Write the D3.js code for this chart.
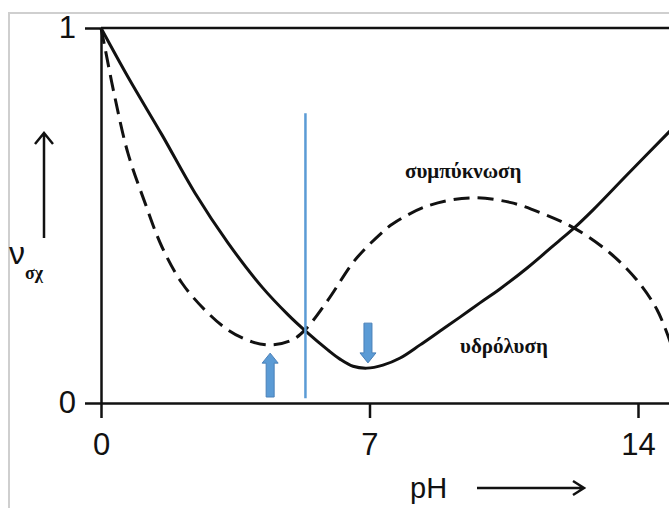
<!DOCTYPE html>
<html>
<head>
<meta charset="utf-8">
<script src="https://cdn.jsdelivr.net/npm/d3@7"></script>
<style>
  body { margin: 0; background: #fff; }
  svg { display: block; }
  .axis path, .axis line { stroke: #111; stroke-width: 2.5; }
  .axis text { font-family: "Liberation Sans", Arial, sans-serif; font-size: 31px; fill: #111; }
  .greek { font-family: "Liberation Serif", "Times New Roman", serif; font-weight: bold; font-size: 21px; fill: #111; }
</style>
</head>
<body>
<script>
// values (pH, relative rate)
var phHydrolysis = [0, 0.70, 1.59, 2.45, 3.31, 4.20, 4.88, 5.32, 5.92, 6.23, 6.57, 6.93, 7.35, 7.80, 8.32, 8.84, 9.36, 9.88, 10.40, 11.11, 11.97, 12.36, 12.83, 13.71, 14.85];
var vHydrolysis  = [1.0, 0.87, 0.715, 0.56, 0.427, 0.309, 0.235, 0.193, 0.141, 0.117, 0.098, 0.093, 0.101, 0.12, 0.155, 0.192, 0.229, 0.267, 0.304, 0.36, 0.435, 0.469, 0.515, 0.608, 0.727];

var phCondensation = [0, 0.10, 0.36, 0.70, 1.15, 1.59, 2.11, 2.71, 3.31, 3.94, 4.46, 4.98, 5.32, 5.92, 6.62, 7.33, 7.61, 8.50, 9.62, 10.66, 11.52, 12.36, 13.27, 13.97, 14.50, 14.85];
var vCondensation  = [1.0, 0.949, 0.816, 0.667, 0.533, 0.416, 0.32, 0.248, 0.195, 0.163, 0.155, 0.168, 0.195, 0.275, 0.381, 0.455, 0.478, 0.525, 0.547, 0.535, 0.505, 0.465, 0.40, 0.328, 0.248, 0.16];

var xTicks = [0, 7, 14];
var yTicks = [0, 1];

// blue markers
var dividerPh = 5.33, dividerFrom = 0.013, dividerTo = 0.773;
var arrowPh   = [4.41, 6.96];
var arrowFrom = [0.016, 0.213];
var arrowTo   = [0.133, 0.107];

var width = 669, height = 508;

var svg = d3.select("body").append("svg")
    .attr("width", width)
    .attr("height", height);

svg.append("rect")
    .attr("width", width).attr("height", height)
    .attr("fill", "#fff");

// light frame of the original figure
svg.append("path")
    .attr("d", "M9," + height + "V13H" + width)
    .attr("fill", "none")
    .attr("stroke", "#cfcfcf")
    .attr("stroke-width", 2);

var x = d3.scaleLinear().domain([0, 15]).range([101, 101 + 15 * 38.357]);
var y = d3.scaleLinear().domain([0, 1]).range([403, 28]);

// axes
svg.append("g")
    .attr("class", "axis")
    .attr("transform", "translate(0," + y(0) + ")")
    .call(d3.axisBottom(x).tickValues(xTicks).tickFormat(d3.format("d"))
      .tickSize(15).tickSizeOuter(0).tickPadding(15))
    .call(function(g) { g.selectAll("text").attr("dy", "0.72em"); });

svg.append("g")
    .attr("class", "axis")
    .attr("transform", "translate(" + x(0) + ",0)")
    .call(d3.axisLeft(y).tickValues(yTicks).tickFormat(d3.format("d"))
      .tickSize(16).tickSizeOuter(0).tickPadding(9));

// line at v = 1
svg.append("line")
    .attr("x1", x(0)).attr("x2", x(15))
    .attr("y1", y(1)).attr("y2", y(1))
    .attr("stroke", "#111")
    .attr("stroke-width", 2.5);

// curves
var line = d3.line()
    .x(function(d) { return x(d[0]); })
    .y(function(d) { return y(d[1]); })
    .curve(d3.curveCatmullRom.alpha(0.5));

svg.append("path")
    .datum(d3.zip(phCondensation, vCondensation))
    .attr("d", line)
    .attr("fill", "none")
    .attr("stroke", "#111")
    .attr("stroke-width", 3)
    .attr("stroke-dasharray", "16 8");

svg.append("path")
    .datum(d3.zip(phHydrolysis, vHydrolysis))
    .attr("d", line)
    .attr("fill", "none")
    .attr("stroke", "#111")
    .attr("stroke-width", 3);

// blue vertical line
svg.append("line")
    .attr("x1", x(dividerPh)).attr("x2", x(dividerPh))
    .attr("y1", y(dividerFrom)).attr("y2", y(dividerTo))
    .attr("stroke", "#5b9bd5")
    .attr("stroke-width", 2.5);

// blue block arrows
function blockArrow(ph, from, to) {
  var px = x(ph), y0 = y(from), y1 = y(to);
  var s = y0 > y1 ? 1 : -1;
  var hb = y1 + s * 10;
  return "M" + (px - 4) + "," + y0 + "V" + hb + "H" + (px - 8) +
         "L" + px + "," + y1 + "L" + (px + 8) + "," + hb +
         "H" + (px + 4) + "V" + y0 + "Z";
}

svg.selectAll(".marker")
    .data(d3.range(arrowPh.length))
    .enter().append("path")
    .attr("class", "marker")
    .attr("d", function(i) { return blockArrow(arrowPh[i], arrowFrom[i], arrowTo[i]); })
    .attr("fill", "#5b9bd5")
    .attr("stroke", "#4a80b8")
    .attr("stroke-width", 1);

// curve labels
svg.append("text").attr("class", "greek")
    .attr("x", 405).attr("y", 178)
    .text("συμπύκνωση");

svg.append("text").attr("class", "greek")
    .attr("x", 460).attr("y", 353)
    .text("υδρόλυση");

// y label with arrow
svg.append("text")
    .attr("x", 9).attr("y", 264)
    .style("font-family", "Liberation Sans, Arial, sans-serif")
    .style("font-size", "32px")
    .attr("fill", "#111")
    .text("ν");

svg.append("text").attr("class", "greek")
    .attr("x", 25).attr("y", 279)
    .style("font-size", "18px")
    .text("σχ");

svg.append("path")
    .attr("d", "M44,238V133M35,144L44,133L53,144")
    .attr("fill", "none")
    .attr("stroke", "#111")
    .attr("stroke-width", 2.5);

// x label with arrow
svg.append("text")
    .attr("x", 410).attr("y", 498)
    .style("font-family", "Liberation Sans, Arial, sans-serif")
    .style("font-size", "29px")
    .attr("fill", "#111")
    .text("pH");

svg.append("path")
    .attr("d", "M477,488H584M573,481L584,488L573,495")
    .attr("fill", "none")
    .attr("stroke", "#111")
    .attr("stroke-width", 2.5);
</script>
</body>
</html>
